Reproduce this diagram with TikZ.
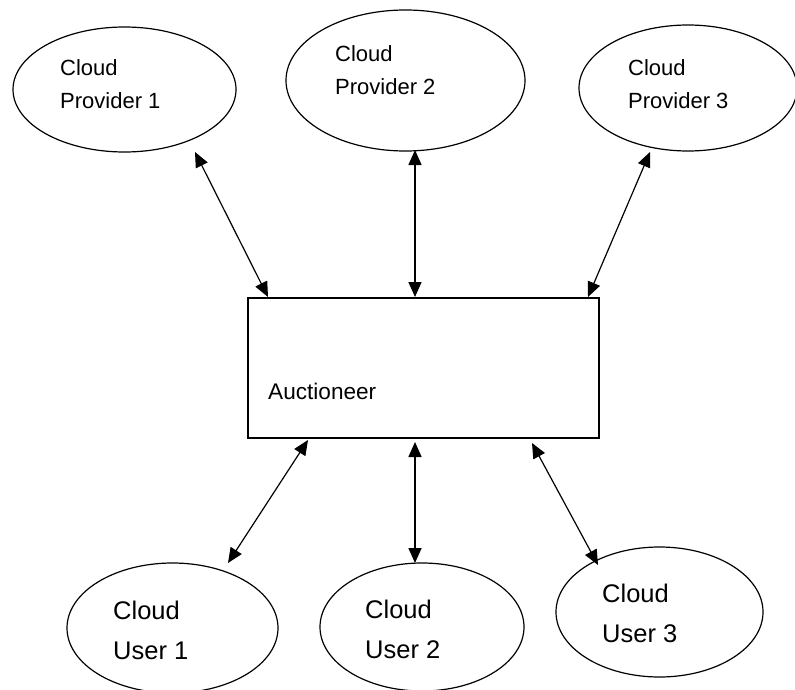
\documentclass[tikz,border=0pt]{standalone}
\usepackage{fontspec}
\setmainfont{Liberation Sans}
\usetikzlibrary{shapes.geometric,arrows.meta}
\begin{document}
\begin{tikzpicture}[x=1pt,y=-1pt,
  cloudshape/.style={draw=black,line width=1.2pt,ellipse,inner sep=0pt},
  ptext/.style={anchor=base west,inner sep=0pt,font=\fontsize{22}{26}\selectfont},
  utext/.style={anchor=base west,inner sep=0pt,font=\fontsize{25.5}{30}\selectfont},
  link/.style={line width=1.2pt,{Triangle[length=15pt,width=13pt]}-{Triangle[length=15pt,width=13pt]}},
  vlink/.style={link,line width=1.6pt}]
\useasboundingbox (0,0) rectangle (795,690);
% providers
\node[cloudshape,minimum width=223pt,minimum height=125pt] (p1) at (124.5,89.5) {};
\node[cloudshape,minimum width=239pt,minimum height=141pt] (p2) at (405.5,80.5) {};
\node[cloudshape,minimum width=218pt,minimum height=126pt] (p3) at (688,88) {};
\node[ptext] (p1a) at (60,76) {Cloud};
\node[ptext] (p1b) at (60,109) {Provider 1};
\node[ptext] (p2a) at (335,62) {Cloud};
\node[ptext] (p2b) at (335,95) {Provider 2};
\node[ptext] (p3a) at (628,76) {Cloud};
\node[ptext] (p3b) at (628,109) {Provider 3};
% auctioneer
\node[draw=black,line width=1.2pt,minimum width=351pt,minimum height=140pt,inner sep=0pt] (auc) at (423.5,368) {};
\node[anchor=base west,inner sep=0pt,font=\fontsize{22.6}{27}\selectfont] (auct) at (268,399) {Auctioneer};
% users
\node[cloudshape,minimum width=211pt,minimum height=130pt] (u1) at (172.5,628) {};
\node[cloudshape,minimum width=204pt,minimum height=128pt] (u2) at (422,627) {};
\node[cloudshape,minimum width=207pt,minimum height=130pt] (u3) at (659.5,612) {};
\node[utext] (u1a) at (113,619) {Cloud};
\node[utext] (u1b) at (113,659) {User 1};
\node[utext] (u2a) at (365,618) {Cloud};
\node[utext] (u2b) at (365,658) {User 2};
\node[utext] (u3a) at (602,602) {Cloud};
\node[utext] (u3b) at (602,642) {User 3};
% connector end points
\coordinate (e1a) at (195,152);
\coordinate (e1b) at (268,297);
\coordinate (e2a) at (415,150);
\coordinate (e2b) at (415,297);
\coordinate (e3a) at (650,152);
\coordinate (e3b) at (588,297);
\coordinate (f1a) at (308,440);
\coordinate (f1b) at (228,563);
\coordinate (f2a) at (415,442);
\coordinate (f2b) at (415,563);
\coordinate (f3a) at (532,443);
\coordinate (f3b) at (598,565);
\draw[link] (e1a) -- (e1b);
\draw[vlink] (e2a) -- (e2b);
\draw[link] (e3a) -- (e3b);
\draw[link] (f1a) -- (f1b);
\draw[vlink] (f2a) -- (f2b);
\draw[link] (f3a) -- (f3b);
\end{tikzpicture}
\end{document}
